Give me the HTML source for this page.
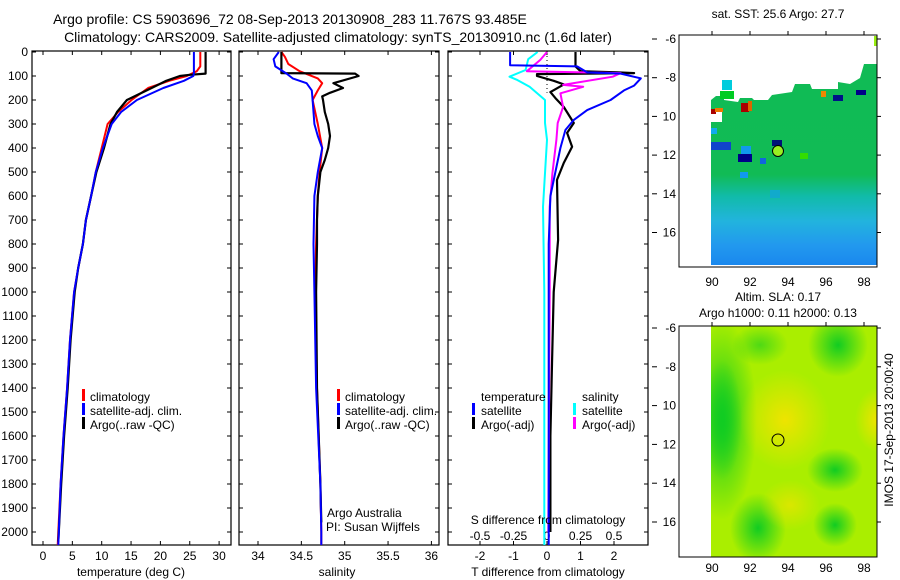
<!DOCTYPE html>
<html><head><meta charset="utf-8"><style>
body{margin:0;background:#fff}
svg{display:block;font-family:"Liberation Sans",sans-serif}
text{fill:#000}
</style></head><body>
<svg id="fig" width="900" height="580" viewBox="0 0 900 580">
<defs>
<clipPath id="c1"><rect x="32" y="51" width="199" height="494"/></clipPath>
<clipPath id="c2"><rect x="239" y="51" width="200" height="494"/></clipPath>
<clipPath id="c3"><rect x="448" y="51" width="200" height="494"/></clipPath>
<linearGradient id="sstg" x1="0" y1="0" x2="0" y2="1">
<stop offset="0" stop-color="#10bb55"/><stop offset="0.55" stop-color="#11bb55"/><stop offset="0.66" stop-color="#11bbaa"/><stop offset="0.78" stop-color="#22b4dd"/><stop offset="0.9" stop-color="#2299ee"/><stop offset="1" stop-color="#1a88ee"/></linearGradient>
<radialGradient id="gblob"><stop offset="0" stop-color="#11cc22"/><stop offset="1" stop-color="#11cc22" stop-opacity="0"/></radialGradient>
<radialGradient id="yblob"><stop offset="0" stop-color="#eee400"/><stop offset="1" stop-color="#eee400" stop-opacity="0"/></radialGradient>
<clipPath id="cm2"><rect x="711" y="326" width="166" height="231"/></clipPath>
</defs>

<text x="290" y="24" font-size="14" text-anchor="middle">Argo profile: CS 5903696_72 08-Sep-2013 20130908_283 11.767S 93.485E</text>
<text x="338" y="42" font-size="14" text-anchor="middle">Climatology: CARS2009. Satellite-adjusted climatology: synTS_20130910.nc (1.6d later)</text>

<g id="axes"></g>
<g id="series"></g>

<g font-size="12">
<rect x="82" y="389" width="3" height="12" fill="#f00"/><text x="90" y="401">climatology</text>
<rect x="82" y="403" width="3" height="12" fill="#00f"/><text x="90" y="415">satellite-adj. clim.</text>
<rect x="82" y="417" width="3" height="12" fill="#000"/><text x="90" y="429">Argo(..raw -QC)</text>
</g>
<g font-size="12">
<rect x="337" y="389" width="3" height="12" fill="#f00"/><text x="345" y="401">climatology</text>
<rect x="337" y="403" width="3" height="12" fill="#00f"/><text x="345" y="415">satellite-adj. clim.</text>
<rect x="337" y="417" width="3" height="12" fill="#000"/><text x="345" y="429">Argo(..raw -QC)</text>
<text x="327" y="517">Argo Australia</text>
<text x="326" y="531">PI: Susan Wijffels</text>
</g>
<g font-size="12">
<text x="481" y="401">temperature</text>
<rect x="472" y="403" width="3" height="12" fill="#00f"/><text x="481" y="415">satellite</text>
<rect x="472" y="417" width="3" height="12" fill="#000"/><text x="481" y="429">Argo(-adj)</text>
<text x="582" y="401">salinity</text>
<rect x="573" y="403" width="3" height="12" fill="#0ff"/><text x="582" y="415">satellite</text>
<rect x="573" y="417" width="3" height="12" fill="#f0f"/><text x="582" y="429">Argo(-adj)</text>
<text x="548" y="524" font-size="12" text-anchor="middle">S difference from climatology</text>
</g>

<g>
<text x="778" y="18" font-size="12" text-anchor="middle">sat. SST: 25.6 Argo: 27.7</text>
<polygon fill="url(#sstg)" points="711,265 877,265 877,64 864,64 860,78 850,84 838,82 838,89 812,89 810,84 795,84 792,92 772,95 768,100 754,100 752,98 740,98 738,102 724,100 724,96 716,96 711,100 711,112 722,112 722,122 711,122 711,141"/>
<rect x="874" y="36" width="3" height="10" fill="#99ee11"/>
<rect x="720" y="91" width="14" height="8" fill="#00cc22"/>
<rect x="722" y="80" width="10" height="10" fill="#00ccdd"/>
<rect x="741" y="103" width="8" height="9" fill="#aa0000"/>
<rect x="748" y="101" width="4" height="10" fill="#dd6600"/>
<rect x="711" y="109" width="5" height="5" fill="#aa0000"/>
<rect x="715" y="108" width="8" height="4" fill="#ee7700"/>
<rect x="738" y="154" width="14" height="8" fill="#000088"/>
<rect x="711" y="142" width="20" height="8" fill="#1144cc"/>
<rect x="741" y="146" width="10" height="8" fill="#1199ee"/>
<rect x="772" y="140" width="10" height="6" fill="#001177"/>
<rect x="833" y="95" width="10" height="6" fill="#001188"/>
<rect x="856" y="90" width="10" height="5" fill="#000088"/>
<rect x="821" y="91" width="5" height="6" fill="#ee8800"/>
<rect x="800" y="153" width="8" height="6" fill="#33dd00"/>
<rect x="711" y="128" width="6" height="6" fill="#11aaee"/>
<rect x="760" y="158" width="6" height="6" fill="#1166dd"/>
<rect x="740" y="172" width="8" height="6" fill="#1199ee"/>
<rect x="770" y="190" width="10" height="8" fill="#11aacc"/>
<circle cx="778" cy="151" r="5.5" fill="#99ee22" stroke="#000" stroke-width="1"/>
<rect x="679" y="35" width="198" height="232" fill="none" stroke="#000"/>
</g>

<g>
<text x="778" y="301" font-size="12" text-anchor="middle">Altim. SLA: 0.17</text>
<text x="778" y="317" font-size="12" text-anchor="middle">Argo h1000: 0.11 h2000: 0.13</text>
<g clip-path="url(#cm2)">
<rect x="711" y="326" width="166" height="231" fill="#aaee00"/>
<ellipse cx="722" cy="420" rx="35" ry="100" fill="url(#gblob)"/>
<ellipse cx="722" cy="420" rx="20" ry="60" fill="url(#gblob)"/>
<ellipse cx="758" cy="528" rx="28" ry="35" fill="url(#gblob)"/>
<ellipse cx="838" cy="345" rx="30" ry="32" fill="url(#gblob)"/>
<ellipse cx="835" cy="470" rx="28" ry="22" fill="url(#gblob)"/>
<ellipse cx="835" cy="525" rx="22" ry="22" fill="url(#gblob)"/>
<ellipse cx="760" cy="345" rx="28" ry="20" fill="url(#gblob)" opacity="0.6"/>
<ellipse cx="785" cy="420" rx="45" ry="50" fill="url(#yblob)"/>
<ellipse cx="877" cy="420" rx="22" ry="32" fill="url(#yblob)"/>
<ellipse cx="790" cy="505" rx="30" ry="25" fill="url(#yblob)" opacity="0.7"/>
</g>
<circle cx="778" cy="440" r="6" fill="none" stroke="#000" stroke-width="1"/>
<rect x="679" y="326" width="198" height="231" fill="none" stroke="#000"/>
<text transform="translate(893,430) rotate(-90)" font-size="12" text-anchor="middle">IMOS 17-Sep-2013 20:00:40</text>
</g>

<script>
const depthTicks=[0,100,200,300,400,500,600,700,800,900,1000,1100,1200,1300,1400,1500,1600,1700,1800,1900,2000];
const tempTicks=[0,5,10,15,20,25,30];
const salTicks=[34,34.5,35,35.5,36];
const salTickLabels=["34","34.5","35","35.5","36"];
const dtTicks=[-2,-1,0,1,2];
const dsTicks=[-0.5,-0.25,0,0.25,0.5];
const dsTickLabels=["-0.5","-0.25","0","0.25","0.5"];
const mapLatTicks=[-6,-8,-10,-12,-14,-16];
const mapLatLabels=["-6","-8","10","12","14","16"];
const mapLonTicks=[90,92,94,96,98];

const tClimD=[0,60,80,100,120,150,200,250,300,400,500,600,700,800,900,1000,1200,1400,1600,1800,2000,2055];
const tClim=[26.8,26.8,26.2,24.5,21.5,17.9,15.1,12.8,11.0,10.0,9.0,8.2,7.3,6.8,6.0,5.3,4.6,4.1,3.5,3.0,2.6,2.5];
const tSatD=[0,90,100,120,150,200,250,300,400,500,600,700,800,900,1000,1200,1400,1600,1800,2000,2055];
const tSat=[25.7,25.7,25.6,24.0,20.5,16.0,13.3,11.7,10.2,9.0,8.2,7.3,6.8,6.0,5.3,4.6,4.1,3.5,3.0,2.7,2.6];
const tArgoD=[0,90,95,100,120,150,200,250,300,400,500,600,700,800,900,1000,1200,1400,1600,1800,2000,2040];
const tArgo=[27.7,27.7,25.0,23.3,21.0,18.5,14.3,12.6,11.5,10.4,9.1,8.2,7.3,6.8,6.0,5.4,4.7,4.2,3.6,3.1,2.7,2.6];

const sClimD=[0,20,50,80,110,130,160,200,300,400,500,600,800,1000,1400,1800,2000,2055];
const sClim=[34.27,34.31,34.35,34.48,34.69,34.74,34.69,34.63,34.69,34.74,34.71,34.69,34.67,34.66,34.68,34.72,34.73,34.73];
const sSatD=[0,30,60,90,110,130,160,200,300,350,400,500,600,800,1000,1400,1800,2000,2055];
const sSat=[34.24,34.18,34.20,34.33,34.40,34.56,34.62,34.63,34.65,34.69,34.74,34.69,34.65,34.64,34.65,34.67,34.72,34.73,34.73];
const sArgoD=[0,88,90,100,130,150,170,185,200,250,300,350,400,450,500,600,700,800,1000,1400,1800,1960];
const sArgo=[34.27,34.27,35.12,35.16,34.87,34.98,34.83,34.74,34.75,34.77,34.81,34.83,34.81,34.77,34.72,34.69,34.68,34.68,34.67,34.68,34.72,34.73];

const dTSatD=[0,55,60,85,90,110,140,160,200,242,283,325,400,500,600,800,1000,2055];
const dTSat=[-1.1,-1.1,0.9,1.2,2.2,2.8,2.6,2.3,1.9,1.2,0.8,0.55,0.4,0.25,0.1,0.05,0.05,0.05];
const dTArgoD=[0,60,80,85,88,92,100,120,135,167,192,229,296,337,395,462,533,783,1000,1300,1600,2000];
const dTArgo=[0.85,0.85,1.0,2.1,2.6,-0.3,-0.3,0.2,0.5,0.1,0.25,0.5,0.8,0.6,0.75,0.5,0.3,0.33,0.2,0.15,0.1,0.1];
const dSSatD=[0,30,75,103,117,145,200,296,366,505,645,1000,2055];
const dSSat=[-0.07,-0.14,-0.16,-0.28,-0.22,-0.13,-0.015,-0.015,0,-0.015,-0.03,-0.02,-0.02];
const dSArgoD=[0,33,80,88,103,137,145,172,229,296,366,505,645,1000,2000];
const dSArgo=[0,-0.05,-0.15,0.55,0.49,0.12,0.27,0.1,0.12,0.08,0.07,0.04,0.02,0.02,0.01];

const NS="http://www.w3.org/2000/svg";
const yD=d=>52+0.24*d;
const xT=t=>43+t*5.87;
const xS=s=>258+(s-34)*86.7;
const xDT=t=>547+t*33.5;
const xDS=s=>547+s*134;
const yLat1=l=>39+(-6-l)*19.35;
const yLat2=l=>328+(-6-l)*19.4;
const xLon=l=>712+(l-90)*19;

const axes=document.getElementById('axes');
const ser=document.getElementById('series');
function mk(tag,attrs,parent){const e=document.createElementNS(NS,tag);for(const k in attrs)e.setAttribute(k,attrs[k]);parent.appendChild(e);return e;}
function txt(x,y,s,anchor,parent){const e=mk('text',{x:x,y:y,'font-size':12,'text-anchor':anchor},parent);e.textContent=s;return e;}

const panels=[{l:32,r:231},{l:239,r:439},{l:448,r:648}];
panels.forEach((p,i)=>{
  const b=mk('rect',{x:p.l,y:51,width:p.r-p.l,height:494,fill:'none',stroke:'#000','stroke-width':1.2},axes);
  
  
  depthTicks.forEach(d=>{
    mk('line',{x1:p.l,x2:p.l+4,y1:yD(d),y2:yD(d),stroke:'#000'},axes);
    mk('line',{x1:p.r-4,x2:p.r,y1:yD(d),y2:yD(d),stroke:'#000'},axes);
  });
});
depthTicks.forEach(d=>{
  const t=txt(28,yD(d)+4,String(d),'end',axes);
  
  
});
function xticks(vals,labels,fx,ylab){
  vals.forEach((v,i)=>{
    const x=fx(v);
    mk('line',{x1:x,x2:x,y1:51,y2:55,stroke:'#000'},axes);
    mk('line',{x1:x,x2:x,y1:541,y2:545,stroke:'#000'},axes);
    const t=txt(x,ylab,labels[i],'middle',axes);
    
    
  });
}
xticks(tempTicks,tempTicks.map(String),xT,560);
xticks(salTicks,salTickLabels,xS,560);
xticks(dtTicks,dtTicks.map(String),xDT,560);
dsTicks.forEach((v,i)=>{
  const t=txt(xDS(v),540,dsTickLabels[i],'middle',axes);
  
  
});
let t1=txt(131,576,'temperature (deg C)','middle',axes);


let t2=txt(337,576,'salinity','middle',axes);


let t3=txt(548,576,'T difference from climatology','middle',axes);



const z=mk('line',{x1:xDT(0),x2:xDT(0),y1:yD(0),y2:yD(170),stroke:'#000','stroke-dasharray':'1,3'},ser);



function line(vals,deps,fx,color,clip,name,w){
  const pts=vals.map((v,i)=>fx(v).toFixed(1)+','+yD(deps[i]).toFixed(1)).join(' ');
  const e=mk('polyline',{points:pts,fill:'none',stroke:color,'stroke-width':w||2,'clip-path':'url(#'+clip+')','stroke-linejoin':'round'},ser);
  
  
}
line(tClim,tClimD,xT,'#f00','c1','temperature-climatology');
line(tArgo,tArgoD,xT,'#000','c1','temperature-argo',2.2);
line(tSat,tSatD,xT,'#00f','c1','temperature-satellite-adj');
line(sClim,sClimD,xS,'#f00','c2','salinity-climatology');
line(sArgo,sArgoD,xS,'#000','c2','salinity-argo',2.2);
line(sSat,sSatD,xS,'#00f','c2','salinity-satellite-adj');
line(dSSat,dSSatD,xDS,'#0ff','c3','s-diff-satellite');
line(dTArgo,dTArgoD,xDT,'#000','c3','t-diff-argo',2.2);
line(dSArgo,dSArgoD,xDS,'#f0f','c3','s-diff-argo');
line(dTSat,dTSatD,xDT,'#00f','c3','t-diff-satellite');

function mapAxes(fy,top,bot,labY){
  mapLatTicks.forEach((l,i)=>{
    const y=fy(l);
    mk('line',{x1:652,x2:657,y1:y,y2:y,stroke:'#000'},axes);
    mk('line',{x1:877,x2:881,y1:y,y2:y,stroke:'#000'},axes);
    const t=txt(676,y+4,mapLatLabels[i],'end',axes);
    
    
  });
  mapLonTicks.forEach(l=>{
    const x=xLon(l);
    mk('line',{x1:x,x2:x,y1:top-4,y2:top,stroke:'#000'},axes);
    const t=txt(x,labY,String(l),'middle',axes);
    
    
  });
}
mapAxes(yLat1,35,267,286);
mapAxes(yLat2,326,557,572);
</script>
</svg>
</body></html>
